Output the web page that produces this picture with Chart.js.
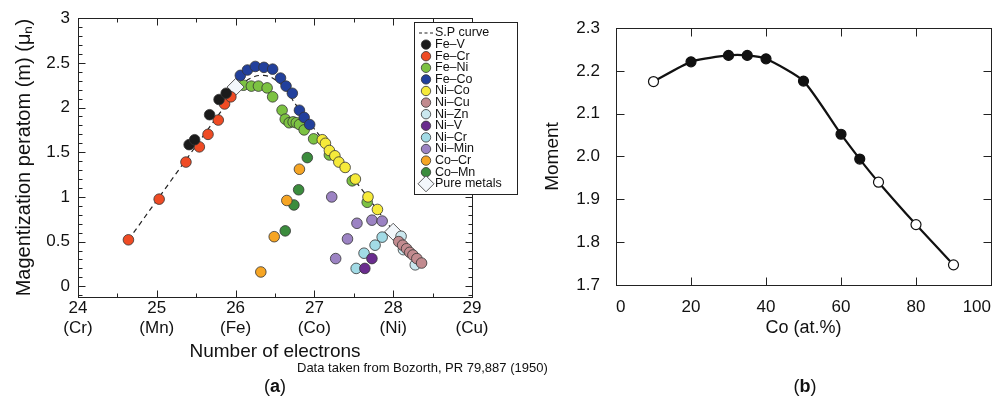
<!DOCTYPE html>
<html>
<head>
<meta charset="utf-8">
<script src="https://cdn.jsdelivr.net/npm/chart.js@4.4.0/dist/chart.umd.min.js"></script>
<style>
  body { margin: 0; background: #fff; }
  #wrap { position: relative; width: 1003px; height: 400px; font-family: "Liberation Sans", Arial, sans-serif; color: #111; }
  #panelA { position: absolute; left: 0; top: 0; width: 525px; height: 400px; }
  #panelB { position: absolute; left: 525px; top: 0; width: 478px; height: 400px; }
  .txt { position: absolute; line-height: 1; white-space: nowrap; }
  .cap { width: 80px; text-align: center; font-size: 18px; }
</style>
</head>
<body>
<div id="wrap">
  <div id="panelA"><canvas></canvas></div>
  <div id="panelB"><canvas></canvas></div>
  <div class="txt" style="left:297px; top:361px; font-size:13px;">Data taken from Bozorth, PR 79,887 (1950)</div>
  <div class="txt cap" style="left:235px; top:377px;">(<b>a</b>)</div>
  <div class="txt cap" style="left:765px; top:377px;">(<b>b</b>)</div>
</div>
<script>
// Slater-Pauling data: [electrons per atom, moment per atom]
const spCurve = [[24.64, 0.52], [26.0, 2.18], [26.12, 2.29], [26.25, 2.35], [26.35, 2.36], [26.45, 2.34],
  [26.55, 2.28], [26.65, 2.19], [26.75, 2.05], [27.0, 1.76], [27.5, 1.20], [28.0, 0.62]];
const feV = [[25.41, 1.585], [25.48, 1.64], [25.67, 1.92], [25.79, 2.09], [25.88, 2.16]];
const feCr = [[24.64, 0.52], [25.03, 0.975], [25.37, 1.39], [25.54, 1.56], [25.65, 1.70], [25.78, 1.86], [25.86, 2.04], [25.94, 2.12]];
const feNi = [[26.10, 2.25], [26.20, 2.24], [26.29, 2.24], [26.40, 2.22], [26.47, 2.12], [26.59, 1.97], [26.63, 1.87], [26.68, 1.83],
  [26.73, 1.84], [26.77, 1.83], [26.81, 1.81], [26.87, 1.75], [26.99, 1.65], [27.19, 1.47], [27.48, 1.18], [27.67, 0.94]];
const feCo = [[26.06, 2.36], [26.15, 2.42], [26.25, 2.46], [26.36, 2.45], [26.47, 2.43], [26.57, 2.33], [26.64, 2.24], [26.72, 2.16],
  [26.81, 1.97], [26.87, 1.89], [26.94, 1.81]];
const niCo = [[27.10, 1.64], [27.14, 1.60], [27.19, 1.52], [27.26, 1.46], [27.31, 1.39], [27.39, 1.33], [27.52, 1.20], [27.68, 1.00], [27.80, 0.86]];
const niCu = [[28.07, 0.50], [28.12, 0.46], [28.17, 0.42], [28.21, 0.38], [28.25, 0.35], [28.30, 0.31], [28.36, 0.26]];
const niZn = [[28.10, 0.56], [28.13, 0.41], [28.28, 0.24]];
const niV = [[27.73, 0.31], [27.64, 0.20]];
const niCr = [[27.86, 0.55], [27.77, 0.46], [27.63, 0.37], [27.53, 0.20]];
const niMn = [[27.22, 1.00], [27.54, 0.705], [27.73, 0.74], [27.86, 0.73], [27.42, 0.53], [27.27, 0.31]];
const coCr = [[26.81, 1.31], [26.65, 0.96], [26.49, 0.555], [26.32, 0.16]];
const coMn = [[26.91, 1.44], [26.80, 1.08], [26.74, 0.91], [26.63, 0.62]];
const pureMetals = [[26.0, 2.23], [28.0, 0.61]];

const electronTicks = [24, 25, 26, 27, 28, 29];
const elementNames = ['Cr', 'Mn', 'Fe', 'Co', 'Ni', 'Cu'];
const momentTicksA = [0, 0.5, 1, 1.5, 2, 2.5, 3];

// Fe-Co alloys: Co content (at.%) vs moment
const coPct = [10, 20, 30, 35, 40, 50, 60, 65, 70, 80, 90];
const coMoment = [2.175, 2.221, 2.236, 2.236, 2.228, 2.176, 2.052, 1.994, 1.940, 1.841, 1.747];
const coOpen = [true, false, false, false, false, false, false, false, true, true, true];
const coTicks = [0, 20, 40, 60, 80, 100];
const momentTicksB = [1.7, 1.8, 1.9, 2.0, 2.1, 2.2, 2.3];

Chart.defaults.font.family = '"Liberation Sans", Arial, sans-serif';
Chart.defaults.color = '#111';

const pts = arr => arr.map(p => ({x: p[0], y: p[1]}));

// plot frame with inward ticks on all four sides
const frameTicks = {
  id: 'frameTicks',
  afterDraw(chart, args, opts) {
    const {ctx, chartArea: a, scales: {x, y}} = chart;
    const L = Math.round(a.left) + 0.5, R = Math.round(a.right) + 0.5;
    const T = Math.round(a.top) + 0.5, B = Math.round(a.bottom) + 0.5;
    ctx.save();
    ctx.strokeStyle = '#222';
    ctx.lineWidth = 1;
    ctx.strokeRect(L, T, R - L, B - T);
    const marks = (scale, step, len) => {
      if (!step) return;
      const k0 = Math.ceil(scale.min / step - 1e-6), k1 = Math.floor(scale.max / step + 1e-6);
      ctx.beginPath();
      for (let k = k0; k <= k1; k++) {
        const p = Math.round(scale.getPixelForValue(k * step)) + 0.5;
        if (scale.isHorizontal()) {
          ctx.moveTo(p, B); ctx.lineTo(p, B - len);
          ctx.moveTo(p, T); ctx.lineTo(p, T + len);
        } else {
          ctx.moveTo(L, p); ctx.lineTo(L + len, p);
          ctx.moveTo(R, p); ctx.lineTo(R - len, p);
        }
      }
      ctx.stroke();
    };
    marks(x, opts.xMinor, opts.minorLen);
    marks(y, opts.yMinor, opts.minorLen);
    marks(x, opts.xMajor, opts.majorLen);
    marks(y, opts.yMajor, opts.majorLen);
    ctx.restore();
  }
};

// boxed legend sitting over the upper right corner of the plot
const boxLegend = {
  id: 'boxLegend',
  afterDraw(chart, args, opts) {
    const ctx = chart.ctx;
    const {left, top, width, height, row} = opts;
    ctx.save();
    ctx.fillStyle = '#fff';
    ctx.fillRect(left, top, width, height);
    ctx.strokeStyle = '#222';
    ctx.lineWidth = 1;
    ctx.strokeRect(left + 0.5, top + 0.5, width, height);
    ctx.font = '12.5px "Liberation Sans", Arial, sans-serif';
    ctx.textBaseline = 'middle';
    chart.data.datasets.forEach((ds, i) => {
      const cy = top + 11 + i * row;
      const cx = left + 12;
      if (ds.showLine) {
        ctx.strokeStyle = ds.borderColor;
        ctx.lineWidth = 1.2;
        ctx.setLineDash([3, 2.5]);
        ctx.beginPath();
        ctx.moveTo(cx - 7, cy); ctx.lineTo(cx + 7, cy);
        ctx.stroke();
        ctx.setLineDash([]);
      } else {
        ctx.fillStyle = ds.backgroundColor;
        ctx.strokeStyle = ds.borderColor;
        ctx.lineWidth = 0.8;
        const diamond = ds.pointStyle === 'rectRot';
        Chart.helpers.drawPoint(ctx, {pointStyle: ds.pointStyle, radius: diamond ? 8 : 4.7, borderWidth: 0.8, rotation: 0}, cx, cy);
      }
      ctx.fillStyle = '#111';
      ctx.fillText(ds.label, left + 21, cy);
    });
    ctx.restore();
  }
};

const dot = (label, data, color, order) => ({
  label, data: pts(data), backgroundColor: color, borderColor: '#333', borderWidth: 0.8,
  pointStyle: 'circle', pointRadius: 5.3, order: order || 0
});

new Chart(document.querySelector('#panelA canvas'), {
  type: 'scatter',
  data: {
    datasets: [
      {label: 'S.P curve', data: pts(spCurve), showLine: true, borderColor: '#222', borderWidth: 1.2,
        borderDash: [5, 4], pointRadius: 0, tension: 0.3, order: 9},
      dot('Fe–V', feV, '#1b1b1b'),
      dot('Fe–Cr', feCr, '#ef4b24'),
      dot('Fe–Ni', feNi, '#7cc242', 2),
      dot('Fe–Co', feCo, '#22409c'),
      dot('Ni–Co', niCo, '#f6ea3a'),
      dot('Ni–Cu', niCu, '#c28b8f'),
      dot('Ni–Zn', niZn, '#cbe8ef'),
      dot('Ni–V', niV, '#6a2c8e'),
      dot('Ni–Cr', niCr, '#a2dbe6'),
      dot('Ni–Min', niMn, '#9c83c3'),
      dot('Co–Cr', coCr, '#f6a524'),
      dot('Co–Mn', coMn, '#3b8c3d'),
      {label: 'Pure metals', data: pts(pureMetals), backgroundColor: '#f3f7fb', borderColor: '#333', borderWidth: 0.8,
        pointStyle: 'rectRot', pointRadius: 8.5, order: 1}
    ]
  },
  options: {
    responsive: true,
    maintainAspectRatio: false,
    animation: false,
    layout: {padding: {left: 0, top: 13, right: 53, bottom: 37}},
    plugins: {
      legend: {display: false},
      tooltip: {enabled: false},
      frameTicks: {xMajor: 1, xMinor: 0.5, yMajor: 0.5, yMinor: 0.1, majorLen: 7, minorLen: 4},
      boxLegend: {left: 414, top: 22, width: 103, height: 172, row: 11.6}
    },
    scales: {
      x: {
        type: 'linear', min: 24, max: 29,
        grid: {display: false, drawTicks: false},
        border: {display: false},
        afterBuildTicks: s => { s.ticks = electronTicks.map(v => ({value: v})); },
        afterFit: s => { s.height = 66; },
        ticks: {padding: 1, font: {size: 17}, callback: v => [String(v), '(' + elementNames[v - 24] + ')']},
        title: {display: true, text: 'Number of electrons', font: {size: 19}, padding: 0}
      },
      y: {
        min: -0.12, max: 3,
        grid: {display: false, drawTicks: false},
        border: {display: false},
        afterBuildTicks: s => { s.ticks = momentTicksA.map(v => ({value: v})); },
        afterFit: s => { s.width = 78; },
        ticks: {padding: 8, font: {size: 17}, callback: v => String(v)},
        title: {display: true, text: 'Magentization peratom (m) (μₙ)', font: {size: 20}, padding: {top: 12, bottom: 0}}
      }
    }
  },
  plugins: [frameTicks, boxLegend]
});

new Chart(document.querySelector('#panelB canvas'), {
  type: 'scatter',
  data: {
    datasets: [{
      label: 'Moment',
      data: coPct.map((c, i) => ({x: c, y: coMoment[i]})),
      showLine: true,
      borderColor: '#111',
      borderWidth: 2.2,
      tension: 0.2,
      pointRadius: 5,
      pointBorderWidth: 1.2,
      pointBorderColor: '#111',
      pointBackgroundColor: coOpen.map(o => o ? '#fff' : '#111')
    }]
  },
  options: {
    responsive: true,
    maintainAspectRatio: false,
    animation: false,
    layout: {padding: {left: 0, top: 28, right: 12, bottom: 61}},
    plugins: {
      legend: {display: false},
      tooltip: {enabled: false},
      frameTicks: {xMajor: 20, yMajor: 0.1, majorLen: 8, minorLen: 0}
    },
    scales: {
      x: {
        type: 'linear', min: 0, max: 100,
        grid: {display: false, drawTicks: false},
        border: {display: false},
        afterBuildTicks: s => { s.ticks = coTicks.map(v => ({value: v})); },
        afterFit: s => { s.height = 54; s.paddingLeft = 0; s.paddingRight = 0; },
        ticks: {padding: 12, font: {size: 17}, align: 'inner'},
        title: {display: true, text: 'Co (at.%)', font: {size: 18}, padding: 0}
      },
      y: {
        min: 1.7, max: 2.3,
        grid: {display: false, drawTicks: false},
        border: {display: false},
        afterBuildTicks: s => { s.ticks = momentTicksB.map(v => ({value: v})); },
        afterFit: s => { s.width = 91; },
        ticks: {padding: 16, font: {size: 17}, callback: v => v.toFixed(1)},
        title: {display: true, text: 'Moment', font: {size: 19}, padding: {top: 16, bottom: 0}}
      }
    }
  },
  plugins: [frameTicks]
});
</script>
</body>
</html>
